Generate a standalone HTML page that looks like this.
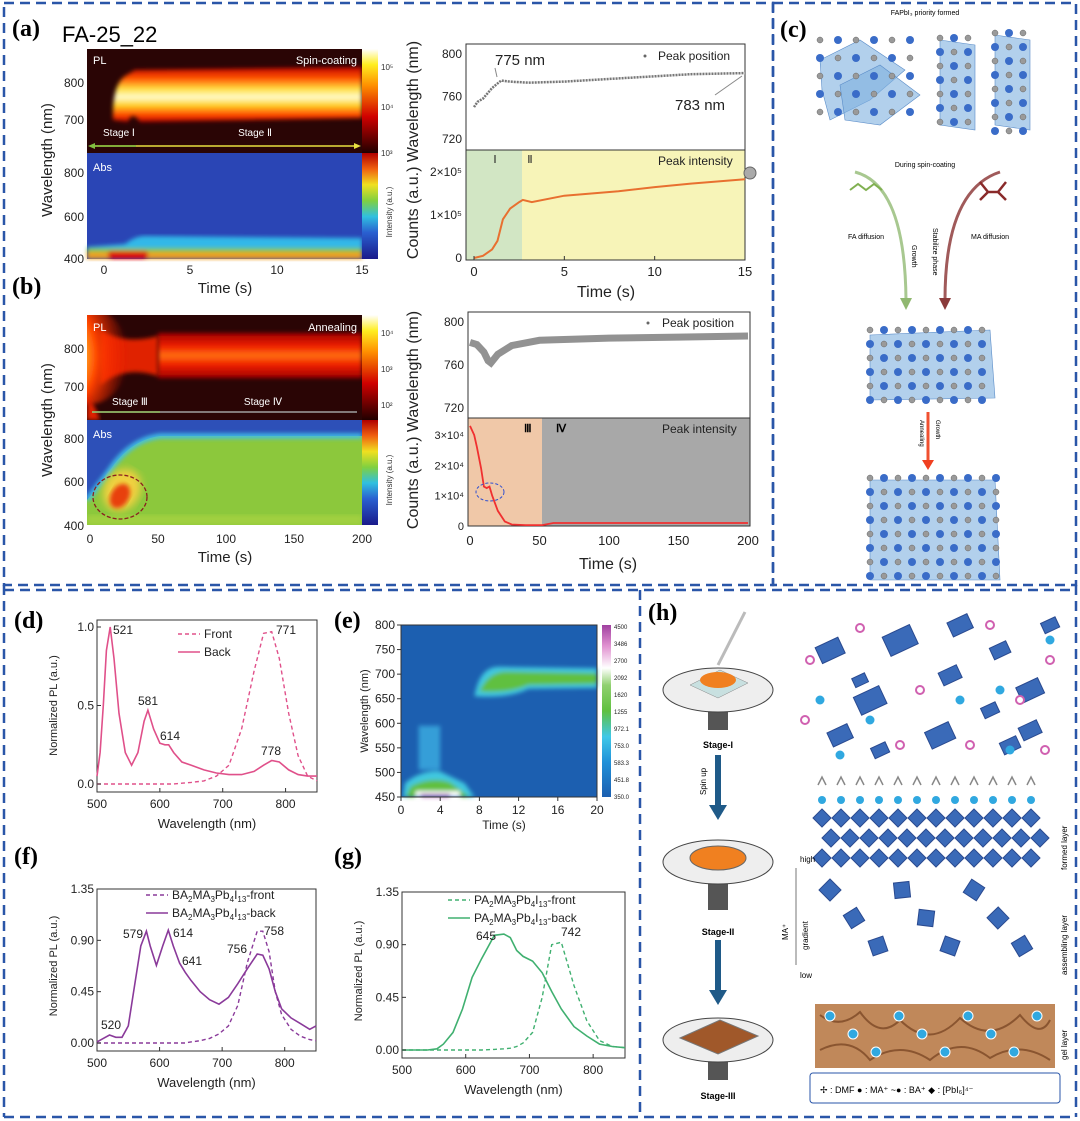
<!DOCTYPE html>
<html><head><meta charset="utf-8">
<style>
html,body{margin:0;padding:0;background:#fff;}
svg{display:block;font-family:"Liberation Sans",sans-serif;}
.pl{font-family:"Liberation Serif",serif;font-weight:bold;font-size:24px;}
</style></head>
<body>
<svg id="fig" width="1080" height="1121" viewBox="0 0 1080 1121" xmlns="http://www.w3.org/2000/svg">
<defs>
<linearGradient id="cbHot" x1="0" y1="1" x2="0" y2="0"><stop offset="0" stop-color="#200000"/><stop offset="0.35" stop-color="#d00000"/><stop offset="0.65" stop-color="#ff9000"/><stop offset="0.85" stop-color="#ffee20"/><stop offset="1" stop-color="#ffffff"/></linearGradient>
<linearGradient id="cbJet" x1="0" y1="1" x2="0" y2="0"><stop offset="0" stop-color="#1a1a8a"/><stop offset="0.25" stop-color="#2a60d0"/><stop offset="0.4" stop-color="#30c0e0"/><stop offset="0.55" stop-color="#80d040"/><stop offset="0.7" stop-color="#f0e020"/><stop offset="0.85" stop-color="#f06010"/><stop offset="1" stop-color="#b00000"/></linearGradient>
<linearGradient id="cbE" x1="0" y1="1" x2="0" y2="0"><stop offset="0" stop-color="#1c5fb0"/><stop offset="0.2" stop-color="#2090d8"/><stop offset="0.35" stop-color="#40c8e8"/><stop offset="0.5" stop-color="#60c040"/><stop offset="0.65" stop-color="#90d070"/><stop offset="0.75" stop-color="#ffffff"/><stop offset="0.88" stop-color="#e090d0"/><stop offset="1" stop-color="#a040a0"/></linearGradient>
<linearGradient id="bandA" x1="0" y1="0" x2="0" y2="1"><stop offset="0" stop-color="#c00000"/><stop offset="0.2" stop-color="#ff5000"/><stop offset="0.4" stop-color="#ffe040"/><stop offset="0.55" stop-color="#fffbd0"/><stop offset="0.7" stop-color="#ffd020"/><stop offset="0.88" stop-color="#ff4000"/><stop offset="1" stop-color="#b00000"/></linearGradient>
<linearGradient id="bandB" x1="0" y1="0" x2="0" y2="1"><stop offset="0" stop-color="#a00000"/><stop offset="0.3" stop-color="#f02000"/><stop offset="0.5" stop-color="#ff7010"/><stop offset="0.7" stop-color="#f02000"/><stop offset="1" stop-color="#a00000"/></linearGradient>
<radialGradient id="hotB" cx="0" cy="0.5" r="1"><stop offset="0" stop-color="#ffffff"/><stop offset="0.3" stop-color="#ffe030"/><stop offset="0.6" stop-color="#ff4000"/><stop offset="1" stop-color="#ff2000" stop-opacity="0"/></radialGradient>
<filter id="blur2"><feGaussianBlur stdDeviation="2"/></filter>
<filter id="blur4"><feGaussianBlur stdDeviation="4"/></filter>
</defs>

<g fill="none" stroke="#2a56a8" stroke-width="2.5" stroke-dasharray="10,6">
<rect x="4" y="3" width="769" height="582"/>
<rect x="773" y="3" width="303" height="582"/>
<line x1="4" y1="585" x2="4" y2="1117"/>
<line x1="4" y1="1117" x2="1076" y2="1117"/>
<line x1="1076" y1="585" x2="1076" y2="1117"/>
<line x1="640" y1="590" x2="640" y2="1117"/>
<line x1="4" y1="590" x2="1076" y2="590"/>
</g>

<text class="pl" x="12" y="36">(a)</text>
<text x="62" y="42" font-size="22">FA-25_22</text>
<text class="pl" x="12" y="294">(b)</text>
<text class="pl" x="780" y="37">(c)</text>
<text class="pl" x="14" y="628">(d)</text>
<text class="pl" x="334" y="628">(e)</text>
<text class="pl" x="14" y="864">(f)</text>
<text class="pl" x="334" y="864">(g)</text>
<text class="pl" x="648" y="620">(h)</text>

<!-- (a) heatmap -->
<g>
<rect x="87" y="49" width="275" height="104" fill="#2a0505"/>
<clipPath id="clipA"><rect x="87" y="49" width="275" height="104"/></clipPath>
<g clip-path="url(#clipA)">
<path d="M113,120 Q112,85 125,76 L135,70 L362,67 L362,118 L140,122 Q132,110 128,122 Z" fill="url(#bandA)" filter="url(#blur2)"/>
</g>
<text x="93" y="64" font-size="11" fill="#fff">PL</text>
<text x="357" y="64" font-size="11" fill="#fff" text-anchor="end">Spin-coating</text>
<text x="103" y="136" font-size="10" fill="#fff">Stage Ⅰ</text>
<text x="255" y="136" font-size="10" fill="#fff" text-anchor="middle">Stage Ⅱ</text>
<line x1="92" y1="146" x2="357" y2="146" stroke="#e8e040" stroke-width="1.5"/>
<line x1="92" y1="146" x2="136" y2="146" stroke="#80c040" stroke-width="1.5"/>
<polygon points="88,146 95,143 95,149" fill="#80c040"/><polygon points="361,146 354,143 354,149" fill="#e8e040"/>
<rect x="87" y="153" width="275" height="106" fill="#2a45b5"/>
<g filter="url(#blur2)">
<path d="M87,247 L125,244 Q135,236 145,236 L362,238 L362,248 L87,250Z" fill="#30b8e8"/>
<rect x="87" y="248" width="275" height="4" fill="#70c840"/>
<rect x="87" y="252" width="275" height="7" fill="#f0a020"/>
<rect x="108" y="251" width="40" height="8" rx="3" fill="#e01010"/>
</g>
<text x="93" y="171" font-size="11" fill="#fff">Abs</text>
<rect x="362" y="49" width="16" height="104" fill="url(#cbHot)"/>
<rect x="362" y="153" width="16" height="106" fill="url(#cbJet)"/>
<g font-size="8" fill="#333"><text x="381" y="70">10⁵</text><text x="381" y="110">10⁴</text><text x="381" y="156">10³</text></g>
<text transform="translate(392,212) rotate(-90)" font-size="8" fill="#333" text-anchor="middle">Intensity (a.u.)</text>
</g>

<!-- (b) heatmap -->
<g>
<rect x="87" y="315" width="275" height="105" fill="#2a0505"/>
<clipPath id="clipB"><rect x="87" y="315" width="275" height="105"/></clipPath>
<g clip-path="url(#clipB)">
<rect x="158" y="333" width="204" height="45" fill="url(#bandB)" filter="url(#blur2)"/>
<path d="M100,330 Q125,345 158,336 L158,376 Q125,365 100,385Z" fill="#e02000" filter="url(#blur2)"/>
<ellipse cx="90" cy="356" rx="38" ry="48" fill="url(#hotB)" filter="url(#blur2)"/>
<path d="M87,395 Q95,405 100,420 L87,420Z" fill="#e02000" filter="url(#blur2)"/>
</g>
<text x="93" y="331" font-size="11" fill="#fff">PL</text>
<text x="357" y="331" font-size="11" fill="#fff" text-anchor="end">Annealing</text>
<text x="112" y="405" font-size="10" fill="#fff">Stage Ⅲ</text>
<text x="263" y="405" font-size="10" fill="#fff" text-anchor="middle">Stage Ⅳ</text>
<line x1="92" y1="412" x2="357" y2="412" stroke="#a0a0a0" stroke-width="1.5"/>
<line x1="92" y1="412" x2="160" y2="412" stroke="#90c060" stroke-width="1.5"/>
<rect x="87" y="420" width="275" height="105" fill="#8cc83c"/>
<clipPath id="clipB2"><rect x="87" y="420" width="275" height="105"/></clipPath>
<g clip-path="url(#clipB2)">
<path d="M87,420 L362,420 L362,436 L160,436 Q130,440 110,470 Q95,490 87,500Z" fill="#2d50b8"/>
<path d="M362,436 L160,436 Q130,440 110,470 Q95,490 87,500" fill="none" stroke="#40c0e8" stroke-width="5" filter="url(#blur2)"/>
<ellipse cx="122" cy="490" rx="18" ry="22" fill="#f0d040" filter="url(#blur4)" transform="rotate(30 122 490)"/>
<ellipse cx="120" cy="496" rx="9" ry="13" fill="#e84010" filter="url(#blur2)" transform="rotate(30 120 496)"/>
<rect x="87" y="515" width="275" height="10" fill="#a0d040" filter="url(#blur2)"/>
</g>
<ellipse cx="120" cy="497" rx="27" ry="22" fill="none" stroke="#8a2020" stroke-width="1.3" stroke-dasharray="4,2"/>
<text x="93" y="438" font-size="11" fill="#fff">Abs</text>
<rect x="362" y="315" width="16" height="105" fill="url(#cbHot)"/>
<rect x="362" y="420" width="16" height="105" fill="url(#cbJet)"/>
<g font-size="8" fill="#333"><text x="381" y="336">10⁴</text><text x="381" y="372">10³</text><text x="381" y="408">10²</text></g>
<text transform="translate(392,480) rotate(-90)" font-size="8" fill="#333" text-anchor="middle">Intensity (a.u.)</text>
</g>

<g font-size="12" fill="#222">
<text x="84" y="87" text-anchor="end">800</text><text x="84" y="124" text-anchor="end">700</text>
<text x="84" y="177" text-anchor="end">800</text><text x="84" y="221" text-anchor="end">600</text><text x="84" y="263" text-anchor="end">400</text>
<text x="104" y="274" text-anchor="middle">0</text><text x="190" y="274" text-anchor="middle">5</text><text x="277" y="274" text-anchor="middle">10</text><text x="362" y="274" text-anchor="middle">15</text>
<text x="225" y="293" text-anchor="middle" font-size="15">Time (s)</text>
<text transform="translate(52,160) rotate(-90)" text-anchor="middle" font-size="15">Wavelength (nm)</text>
<text x="84" y="353" text-anchor="end">800</text><text x="84" y="391" text-anchor="end">700</text>
<text x="84" y="443" text-anchor="end">800</text><text x="84" y="486" text-anchor="end">600</text><text x="84" y="530" text-anchor="end">400</text>
<text x="90" y="543" text-anchor="middle">0</text><text x="158" y="543" text-anchor="middle">50</text><text x="226" y="543" text-anchor="middle">100</text><text x="294" y="543" text-anchor="middle">150</text><text x="362" y="543" text-anchor="middle">200</text>
<text x="225" y="562" text-anchor="middle" font-size="15">Time (s)</text>
<text transform="translate(52,420) rotate(-90)" text-anchor="middle" font-size="15">Wavelength (nm)</text>
</g>

<!-- (c) schematic -->
<g>
<text x="925" y="15" font-size="7" text-anchor="middle">FAPbI₃ priority formed</text>
<g fill="#7fb0e0" fill-opacity="0.6" stroke="#5a8cc8" stroke-width="0.6">
<polygon points="820,60 860,40 905,70 870,100 830,120 822,90"/>
<polygon points="840,85 880,65 920,95 880,125 845,120"/>
<polygon points="940,40 975,45 975,130 940,125"/>
<polygon points="995,35 1030,40 1030,130 995,125"/>
<polygon points="870,335 990,330 995,398 870,400"/>
<polygon points="870,480 995,480 1000,580 870,580"/>
</g>
<g id="catoms"></g>
<text x="925" y="167" font-size="7" text-anchor="middle">During spin-coating</text>
<path d="M855,172 Q905,185 906,300" fill="none" stroke="#a8c890" stroke-width="3"/>
<polygon points="900,298 912,298 906,310" fill="#90b870"/>
<path d="M1000,172 Q945,190 945,300" fill="none" stroke="#a05a5a" stroke-width="3"/>
<polygon points="939,298 951,298 945,310" fill="#8a3a3a"/>
<g stroke="#80b050" stroke-width="2" fill="none"><path d="M850,190 L858,184 L866,190 L874,184 L882,190"/></g>
<g stroke="#8a2a2a" stroke-width="2.5" fill="none"><path d="M980,182 L988,192 L998,192 L1006,182 M988,192 L980,200 M998,192 L1006,200"/></g>
<text x="866" y="239" font-size="7" text-anchor="middle">FA diffusion</text>
<text x="990" y="239" font-size="7" text-anchor="middle">MA diffusion</text>
<text transform="translate(912,245) rotate(90)" font-size="7">Growth</text>
<text transform="translate(933,228) rotate(90)" font-size="7">Stabilize phase</text>
<line x1="928" y1="412" x2="928" y2="462" stroke="#f05030" stroke-width="3"/>
<polygon points="922,460 934,460 928,470" fill="#f04020"/>
<text transform="translate(920,420) rotate(90)" font-size="6">Annealing</text>
<text transform="translate(936,420) rotate(90)" font-size="6">Growth</text>
</g>

<!-- (h) schematic -->
<g>
<g>
<rect x="708" y="695" width="20" height="35" fill="#555"/><ellipse cx="718" cy="690" rx="55" ry="22" fill="#eee" stroke="#444"/>
<polygon points="690,685 720,670 748,683 718,698" fill="#c8e0e0" stroke="#888" stroke-width="0.5"/>
<ellipse cx="718" cy="680" rx="18" ry="8" fill="#f08020"/>
<line x1="718" y1="665" x2="745" y2="612" stroke="#bbb" stroke-width="3"/>
<rect x="708" y="870" width="20" height="40" fill="#555"/><ellipse cx="718" cy="862" rx="55" ry="22" fill="#eee" stroke="#444"/>
<ellipse cx="718" cy="858" rx="28" ry="12" fill="#f08020" stroke="#666"/>
<rect x="708" y="1050" width="20" height="30" fill="#555"/><ellipse cx="718" cy="1040" rx="55" ry="22" fill="#eee" stroke="#444"/>
<polygon points="680,1038 720,1020 758,1036 718,1054" fill="#a0582a" stroke="#777"/>
</g>
<text x="718" y="748" font-size="9" font-weight="bold" text-anchor="middle">Stage-I</text>
<text x="718" y="935" font-size="9" font-weight="bold" text-anchor="middle">Stage-II</text>
<text x="718" y="1099" font-size="9" font-weight="bold" text-anchor="middle">Stage-III</text>
<g fill="#1f5a88"><rect x="715" y="755" width="6" height="50"/><polygon points="709,805 727,805 718,820"/><rect x="715" y="940" width="6" height="50"/><polygon points="709,990 727,990 718,1005"/></g>
<text transform="translate(706,795) rotate(-90)" font-size="8">Spin up</text>
<rect x="815" y="1004" width="240" height="64" fill="#c0885a"/>
<g stroke="#8a5530" stroke-width="2" fill="none"><path d="M820,1015 Q840,1030 860,1012 Q880,1040 900,1020 Q930,1050 960,1018 Q990,1045 1020,1015 Q1040,1040 1050,1020"/><path d="M820,1050 Q850,1035 870,1060 Q900,1040 930,1060 Q960,1035 990,1058 Q1020,1040 1050,1060"/></g>
<g id="hmol"></g>
<rect x="810" y="1073" width="250" height="30" rx="3" fill="#fff" stroke="#2a56a8"/>
<text x="820" y="1093" font-size="9">✢ : DMF   ● : MA⁺   ~● : BA⁺   ◆ : [PbI₆]⁴⁻</text>
<text x="800" y="862" font-size="8">high</text><text x="800" y="978" font-size="8">low</text>
<line x1="796" y1="868" x2="796" y2="965" stroke="#777"/>
<text transform="translate(788,940) rotate(-90)" font-size="8">MA⁺</text>
<text transform="translate(808,950) rotate(-90)" font-size="8">gradient</text>
<text transform="translate(1067,870) rotate(-90)" font-size="8">formed layer</text>
<text transform="translate(1067,975) rotate(-90)" font-size="8">assembling layer</text>
<text transform="translate(1067,1060) rotate(-90)" font-size="8">gel layer</text>
</g>

<g id="charts"></g>
</svg>

<script>
const aPosT=[0,0.2,0.5,1,1.5,2,3,5,8,10,12,15];
const aPosV=[750,755,758,768,775,774,773,774,777,779,781,782];
const aIntT=[0,0.5,1,1.3,1.6,2,2.5,2.7,3.2,5,8,10,12,15];
const aIntV=[0,5e3,2e4,4e4,9e4,1.15e5,1.3e5,1.35e5,1.3e5,1.45e5,1.55e5,1.65e5,1.73e5,1.83e5];
const aTimeTicks=[0,5,10,15];
const aPosTicks=[720,760,800];
const aIntTicks=[0,1e5,2e5];
const aIntTickLabels=["0","1×10⁵","2×10⁵"];
const bPosT=[0,5,10,13,15,20,30,50,100,150,200];
const bPosV=[781,779,772,764,762,770,778,783,785,786,787];
const bIntT=[0,3,5,8,10,12,14,16,20,25,30,40,52,60,200];
const bIntV=[3.3e4,3.0e4,2.6e4,1.9e4,1.3e4,1.25e4,1.3e4,1.0e4,5e3,1.5e3,500,300,300,1000,1000];
const bTimeTicks=[0,50,100,150,200];
const bPosTicks=[720,760,800];
const bIntTicks=[0,1e4,2e4,3e4];
const bIntTickLabels=["0","1×10⁴","2×10⁴","3×10⁴"];
const dWl=[500,505,510,515,521,527,535,545,555,565,575,581,590,600,608,614,622,635,650,670,690,710,730,750,765,778,790,805,820,835,850];
const dBack=[0.05,0.2,0.5,0.85,1.0,0.8,0.45,0.2,0.12,0.2,0.4,0.47,0.35,0.26,0.25,0.25,0.2,0.14,0.12,0.09,0.07,0.06,0.06,0.08,0.12,0.15,0.14,0.09,0.06,0.05,0.05];
const dFront=[0,0,0,0,0,0,0,0,0,0,0,0,0,0,0,0,0,0.005,0.01,0.02,0.05,0.12,0.35,0.72,0.96,0.97,0.8,0.45,0.18,0.05,0.02];
const dXTicks=[500,600,700,800];
const dYTicks=[0,0.5,1.0];
const dYLabels=["0.0","0.5","1.0"];
const eTimeTicks=[0,4,8,12,16,20];
const eWlTicks=[450,500,550,600,650,700,750,800];
const eCbLabels=["4500","3486","2700","2092","1620","1255","972.1","753.0","583.3","451.8","350.0"];
const fWl=[500,510,520,530,540,550,560,570,579,585,595,605,614,622,632,641,650,665,680,695,710,725,740,756,765,775,785,795,810,825,840,850];
const fBack=[0.01,0.04,0.07,0.05,0.05,0.15,0.5,0.85,0.98,0.85,0.68,0.85,0.99,0.85,0.7,0.62,0.55,0.45,0.38,0.34,0.4,0.52,0.65,0.78,0.77,0.65,0.45,0.3,0.22,0.17,0.12,0.15];
const fFront=[0,0,0,0,0,0,0,0,0,0,0,0,0,0,0,0,0.01,0.02,0.04,0.08,0.15,0.33,0.7,0.98,0.98,0.8,0.45,0.25,0.12,0.06,0.03,0.02];
const gWl=[500,540,555,565,580,595,610,625,645,660,670,680,690,705,720,735,750,770,790,810,830,850];
const gBack=[0,0,0.01,0.05,0.15,0.35,0.62,0.78,0.98,0.99,0.96,0.85,0.8,0.76,0.66,0.5,0.35,0.2,0.12,0.05,0.03,0.02];
const gFront=[0,0,0,0,0,0,0,0,0.005,0.01,0.015,0.03,0.06,0.15,0.45,0.9,0.92,0.55,0.25,0.08,0.03,0.02];
const PLTicks=[0,0.45,0.9,1.35];
const PLLabels=["0.00","0.45","0.90","1.35"];
const wlTicks=[500,600,700,800];

const NS="http://www.w3.org/2000/svg";
const root=document.getElementById('charts');
function lin(d0,d1,r0,r1){return v=>r0+(v-d0)*(r1-r0)/(d1-d0);}
function mk(tag,attrs,parent){const e=document.createElementNS(NS,tag);for(const k in attrs)e.setAttribute(k,attrs[k]);(parent||root).appendChild(e);return e;}
function txt(x,y,s,size,anchor,parent,rot){const t=mk('text',{x:x,y:y,'font-size':size,'text-anchor':anchor||'middle',fill:'#222'},parent);if(rot)t.setAttribute('transform','rotate(-90 '+x+' '+y+')');t.textContent=s;return t;}
function path(xs,ys,sx,sy){return xs.map((v,i)=>(i?'L':'M')+sx(v).toFixed(1)+','+sy(ys[i]).toFixed(1)).join('');}
function frame(x0,y0,x1,y1,g){mk('rect',{x:x0,y:y0,width:x1-x0,height:y1-y0,fill:'none',stroke:'#333','stroke-width':1},g);}

(function(){
 const g=mk('g',{});
 const sx=lin(0,15,474,745);const sy=lin(720,800,139,54);const sy2=lin(0,2e5,258,172);
 mk('rect',{x:466,y:150,width:56,height:110,fill:'#d2e6c4'},g);
 mk('rect',{x:522,y:150,width:223,height:110,fill:'#f7f4b8'},g);
 frame(466,44,745,260,g);mk('line',{x1:466,y1:150,x2:745,y2:150,stroke:'#333'},g);
 const p=mk('path',{d:path(aPosT,aPosV,sx,sy),fill:'none',stroke:'#777','stroke-width':2.5,'stroke-dasharray':'2,1'},g);
 
 const q=mk('path',{d:path(aIntT,aIntV,sx,sy2),fill:'none',stroke:'#e87030','stroke-width':2},g);
 
 aTimeTicks.forEach(t=>{mk('line',{x1:sx(t),y1:260,x2:sx(t),y2:256,stroke:'#333'},g);txt(sx(t),276,t,13,'middle',g);});
 aPosTicks.forEach(v=>{txt(462,sy(v)+4,v,12,'end',g);});
 aIntTicks.forEach((v,i)=>{txt(462,sy2(v)+4,aIntTickLabels[i],12,'end',g);});
 txt(606,297,'Time (s)',16,'middle',g);
 txt(418,150,'Counts (a.u.) Wavelength (nm)',16,'middle',g,true);
 txt(658,60,'Peak position',12,'start',g);
 mk('circle',{cx:645,cy:56,r:1.5,fill:'#666'},g);
 txt(658,165,'Peak intensity',12,'start',g);
 txt(495,65,'775 nm',15,'start',g);txt(675,110,'783 nm',15,'start',g);
 mk('line',{x1:495,y1:68,x2:497,y2:77,stroke:'#888'},g);mk('line',{x1:715,y1:95,x2:742,y2:76,stroke:'#888'},g);
 txt(495,163,'Ⅰ',11,'middle',g);txt(530,163,'Ⅱ',11,'middle',g);
 mk('circle',{cx:750,cy:173,r:6,fill:'#aaa',stroke:'#666'},g);
})();

(function(){
 const g=mk('g',{});
 const sx=lin(0,200,470,748);const sy=lin(720,800,408,322);const sy2=lin(0,3e4,526,435);
 mk('rect',{x:468,y:418,width:74,height:108,fill:'#f0c8a8'},g);
 mk('rect',{x:542,y:418,width:208,height:108,fill:'#a8a8a8'},g);
 frame(468,312,750,526,g);mk('line',{x1:468,y1:418,x2:750,y2:418,stroke:'#333'},g);
 const p=mk('path',{d:path(bPosT,bPosV,sx,sy),fill:'none',stroke:'#777','stroke-width':7,'stroke-opacity':0.8},g);
 
 const q=mk('path',{d:path(bIntT,bIntV,sx,sy2),fill:'none',stroke:'#f03030','stroke-width':1.8},g);
 
 bTimeTicks.forEach(t=>{txt(sx(t),545,t,13,'middle',g);});
 bPosTicks.forEach(v=>{txt(464,sy(v)+4,v,12,'end',g);});
 bIntTicks.forEach((v,i)=>{txt(464,sy2(v)+4,bIntTickLabels[i],11,'end',g);});
 txt(608,569,'Time (s)',16,'middle',g);
 txt(418,420,'Counts (a.u.) Wavelength (nm)',16,'middle',g,true);
 txt(662,327,'Peak position',12,'start',g);mk('circle',{cx:648,cy:323,r:1.5,fill:'#666'},g);
 txt(662,433,'Peak intensity',12,'start',g);
 mk('text',{x:524,y:432,'font-size':11,'font-weight':'bold','font-family':'Liberation Serif'},g).textContent='Ⅲ';
 mk('text',{x:556,y:432,'font-size':11,'font-weight':'bold','font-family':'Liberation Serif'},g).textContent='Ⅳ';
 mk('ellipse',{cx:490,cy:492,rx:14,ry:9,fill:'none',stroke:'#3050d0','stroke-dasharray':'3,2'},g);
})();

function plChart(name,x0,x1,y0,y1,ymax,xs,s1,s2,c,yt,yl,lab1,lab2,peaks,leg){
 const g=mk('g',{});
 const sx=lin(500,850,x0,x1);const sy=lin(0,ymax,y1,y0);
 frame(x0,y0-(ymax===1?7:0),x1,y1+8,g);
 const a=mk('path',{d:path(xs,s2,sx,sy),fill:'none',stroke:c,'stroke-width':1.4,'stroke-dasharray':'4,3'},g);
 
 const b=mk('path',{d:path(xs,s1,sx,sy),fill:'none',stroke:c,'stroke-width':1.6},g);
 
 wlTicks.forEach(t=>{mk('line',{x1:sx(t),y1:y1+8,x2:sx(t),y2:y1+4,stroke:'#333'},g);txt(sx(t),y1+24,t,12,'middle',g);});
 yt.forEach((v,i)=>{mk('line',{x1:x0,y1:sy(v),x2:x0+4,y2:sy(v),stroke:'#333'},g);txt(x0-3,sy(v)+4,yl[i],12,'end',g);});
 txt((x0+x1)/2,y1+44,'Wavelength (nm)',13,'middle',g);
 txt(x0-40,(y0+y1)/2,'Normalized PL (a.u.)',11,'middle',g,true);
 mk('line',{x1:leg[0],y1:leg[1]-4,x2:leg[0]+22,y2:leg[1]-4,stroke:c,'stroke-dasharray':'4,3','stroke-width':1.4},g);
 mk('line',{x1:leg[0],y1:leg[1]+14,x2:leg[0]+22,y2:leg[1]+14,stroke:c,'stroke-width':1.6},g);
 const t1=mk('text',{x:leg[0]+26,y:leg[1],'font-size':12,fill:'#222'},g);t1.innerHTML=lab1;
 const t2=mk('text',{x:leg[0]+26,y:leg[1]+18,'font-size':12,fill:'#222'},g);t2.innerHTML=lab2;
 peaks.forEach(p=>txt(p[1],p[2],p[0],12,'middle',g));
}
const sub=(p)=>p+'<tspan font-size="8" dy="3">2</tspan><tspan dy="-3">MA</tspan><tspan font-size="8" dy="3">3</tspan><tspan dy="-3">Pb</tspan><tspan font-size="8" dy="3">4</tspan><tspan dy="-3">I</tspan><tspan font-size="8" dy="3">13</tspan>';
plChart('chart-d',97,317,627,784,1,dWl,dBack,dFront,'#e0508a',dYTicks,dYLabels,'Front','Back',
 [['521',123,634],['581',148,705],['614',170,740],['771',286,634],['778',271,755]],[178,638]);
plChart('chart-f',97,316,889,1043,1.35,fWl,fBack,fFront,'#8a3a9a',PLTicks,PLLabels,
 sub('BA')+'<tspan dy="-3">-front</tspan>',sub('BA')+'<tspan dy="-3">-back</tspan>',
 [['579',133,938],['614',183,937],['641',192,965],['756',237,953],['758',274,935],['520',111,1029]],[146,899]);
plChart('chart-g',402,625,892,1050,1.35,gWl,gBack,gFront,'#40b070',PLTicks,PLLabels,
 sub('PA')+'<tspan dy="-3">-front</tspan>',sub('PA')+'<tspan dy="-3">-back</tspan>',
 [['645',486,940],['742',571,936]],[448,904]);

(function(){
 const g=mk('g',{});
 const sx=lin(0,20,401,597);const sy=lin(450,800,797,625);
 mk('rect',{x:401,y:625,width:196,height:172,fill:'#1c5fb0'},g);
 const gg=mk('g',{filter:'url(#blur2)'},g);
 mk('rect',{x:sx(1.8),y:sy(595),width:sx(4)-sx(1.8),height:sy(505)-sy(595),fill:'#40b8e8','fill-opacity':0.7},gg);
 mk('path',{d:'M'+sx(0.2)+','+sy(450)+' L'+sx(0.4)+','+sy(478)+' Q'+sx(2)+','+sy(505)+' '+sx(4)+','+sy(502)+' L'+sx(6.5)+','+sy(478)+' L'+sx(7.5)+','+sy(450)+'Z',fill:'#40c8e0'},gg);
 mk('path',{d:'M'+sx(0.5)+','+sy(450)+' L'+sx(1)+','+sy(472)+' Q'+sx(3)+','+sy(492)+' '+sx(5)+','+sy(480)+' L'+sx(7)+','+sy(450)+'Z',fill:'#60c040'},gg);
 mk('rect',{x:sx(1.5),y:sy(462),width:sx(6)-sx(1.5),height:sy(450)-sy(462),fill:'#ffffff'},gg);
 mk('rect',{x:sx(2),y:sy(456),width:sx(5)-sx(2),height:sy(450)-sy(456),fill:'#b050b0'},gg);
 mk('path',{d:'M'+sx(7.5)+','+sy(655)+' Q'+sx(8)+','+sy(715)+' '+sx(10)+','+sy(715)+' L'+sx(20)+','+sy(712)+' L'+sx(20)+','+sy(672)+' L'+sx(13)+','+sy(670)+' Q'+sx(11)+','+sy(650)+' '+sx(7.5)+','+sy(655)+'Z',fill:'#40c8e0'},gg);
 mk('path',{d:'M'+sx(8)+','+sy(665)+' Q'+sx(9)+','+sy(708)+' '+sx(11)+','+sy(705)+' L'+sx(20)+','+sy(702)+' L'+sx(20)+','+sy(680)+' L'+sx(13)+','+sy(678)+' Q'+sx(11)+','+sy(660)+' '+sx(8)+','+sy(665)+'Z',fill:'#60c040'},gg);
 frame(401,625,597,797,g);
 eTimeTicks.forEach(t=>{mk('line',{x1:sx(t),y1:797,x2:sx(t),y2:801,stroke:'#333'},g);txt(sx(t),814,t,12,'middle',g);});
 eWlTicks.forEach(v=>{mk('line',{x1:397,y1:sy(v),x2:401,y2:sy(v),stroke:'#333'},g);txt(395,sy(v)+4,v,12,'end',g);});
 txt(504,829,'Time (s)',12,'middle',g);
 txt(368,711,'Wavelength (nm)',11,'middle',g,true);
 mk('rect',{x:602,y:625,width:9,height:172,fill:'url(#cbE)'},g);
 eCbLabels.forEach((s,i)=>txt(614,629+i*17,s,6,'start',g));
})();

// (c) atoms
(function(){
 const g=document.getElementById('catoms');
 const blocks=[[820,40,100,85,18],[940,38,40,95,14],[995,33,40,100,14],[870,330,125,72,14],[870,478,130,104,14]];
 blocks.forEach(b=>{for(let x=b[0];x<=b[0]+b[2];x+=b[4])for(let y=b[1];y<=b[1]+b[3];y+=b[4]){
  const big=((x-b[0])/b[4]+(y-b[1])/b[4])%2===1;
  const c=mk('circle',{cx:x,cy:y,r:big?4:3,fill:big?'#3a6cc8':'#9a9a9a',stroke:big?'none':'#666','stroke-width':0.5},g);
  }});
})();

const hOct=[[830,650,25],[900,640,30],[950,675,20],[870,700,28],[1000,650,18],[1030,690,24],[840,735,22],[940,735,26],[1030,730,20],[990,710,16],[860,680,14],[1050,625,16],[960,625,22],[1010,745,18],[880,750,16]];
const hMA=[[810,660],[860,628],[990,625],[1050,660],[920,690],[1020,700],[805,720],[900,745],[970,745],[1045,750]];
const hBA=[[820,700],[870,720],[1000,690],[960,700],[1050,640],[840,755],[1010,750]];
(function(){
 const g=document.getElementById('hmol');
 hOct.forEach(o=>{const r=mk('rect',{x:o[0]-o[2]/2,y:o[1]-o[2]/3,width:o[2],height:o[2]*0.7,fill:'#3a6ab8',stroke:'#2a4a90',transform:'rotate(-25 '+o[0]+' '+o[1]+')'},g);});
 hMA.forEach(p=>{const c=mk('circle',{cx:p[0],cy:p[1],r:4,fill:'#fff',stroke:'#d060b0','stroke-width':2},g);});
 hBA.forEach(p=>{const c=mk('circle',{cx:p[0],cy:p[1],r:4.5,fill:'#30a8e0'},g);});
 for(let i=0;i<12;i++){for(let j=0;j<3;j++){const x=822+i*19+(j%2)*9,y=818+j*20;const d=mk('polygon',{points:(x)+','+(y-9)+' '+(x+9)+','+y+' '+x+','+(y+9)+' '+(x-9)+','+y,fill:'#3a6ab8',stroke:'#2a4a90'},g);}
  const c=mk('circle',{cx:822+i*19,cy:800,r:4,fill:'#30a8e0'},g);
  const s=mk('path',{d:'M'+(818+i*19)+',785 l4,-8 l4,8',fill:'none',stroke:'#888','stroke-width':1.5},g);}
 for(let i=0;i<9;i++){const x=830+i*24,y=890+(i%3)*28;const d=mk('polygon',{points:(x)+','+(y-11)+' '+(x+11)+','+y+' '+x+','+(y+11)+' '+(x-11)+','+y,fill:'#3a6ab8',stroke:'#2a4a90',transform:'rotate('+(i*13)+' '+x+' '+y+')'},g);}
 for(let i=0;i<10;i++){const c=mk('circle',{cx:830+i*23,cy:1016+(i%3)*18,r:5,fill:'#30a8e0',stroke:'#fff'},g);}
})();
</script>
</body></html>
